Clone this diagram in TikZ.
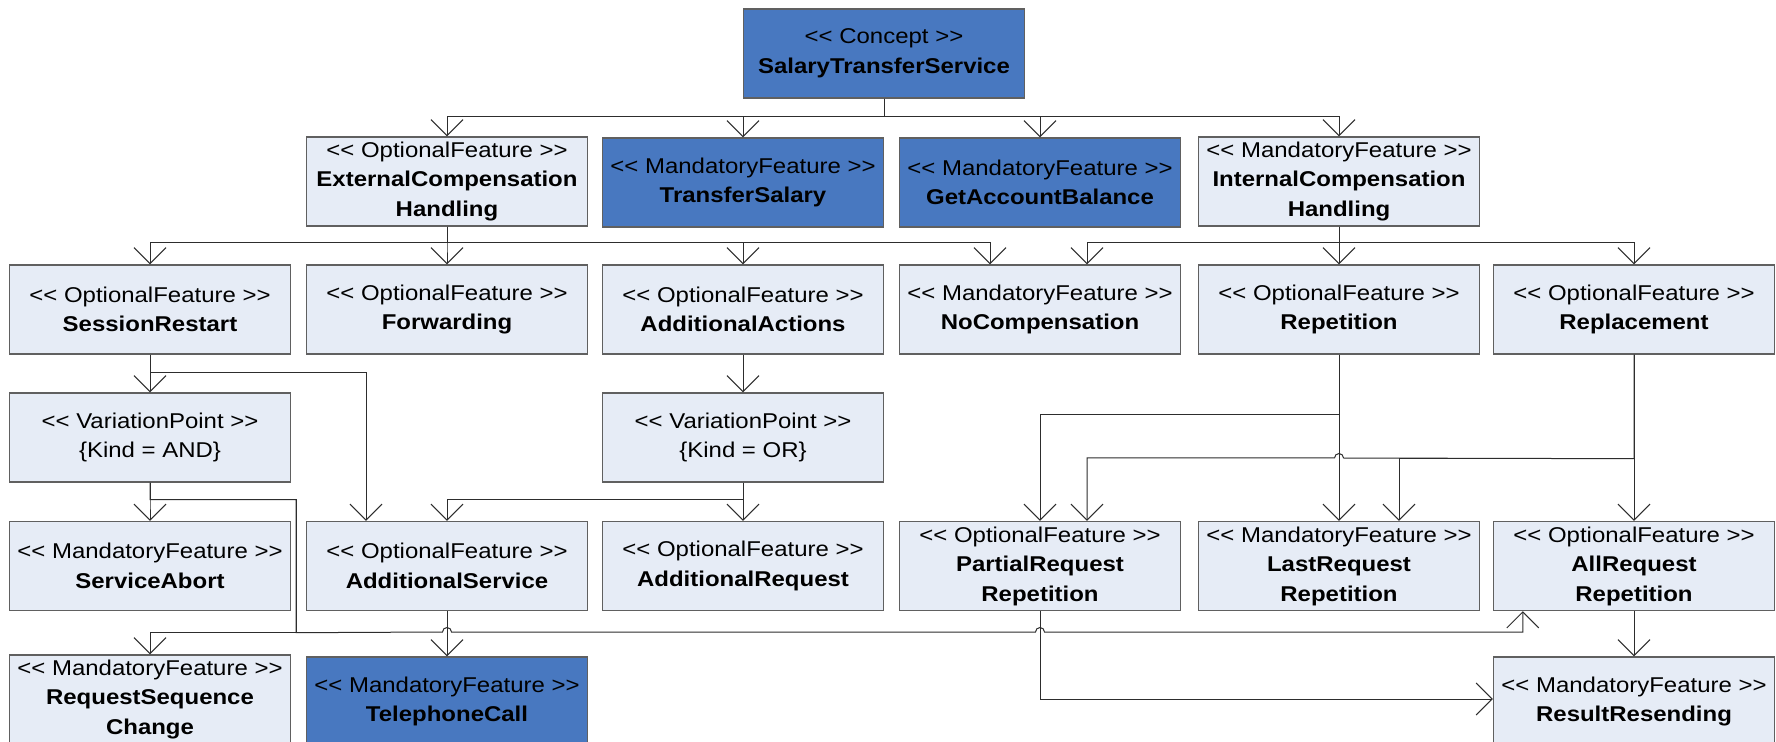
\documentclass[tikz,border=0pt]{standalone}
\usepackage{fontspec}
\setmainfont{Liberation Sans}[FakeStretch=1.12]
\usetikzlibrary{arrows.meta}
\definecolor{featdark}{RGB}{72,120,192}
\definecolor{featlight}{RGB}{230,236,246}
\definecolor{frameline}{RGB}{96,96,96}
\definecolor{wireline}{RGB}{45,45,45}
% stereotype label: << name >> (kerns keep << and >> from turning into guillemets)
\newcommand\stereo[1]{<\kern0pt< #1 >\kern0pt>}
\begin{document}
\begin{tikzpicture}[x=0.5pt,y=-0.5pt,
  box/.style={draw=frameline, line width=0.7pt, minimum width=140.5pt,
    minimum height=44.5pt, inner sep=0pt, align=center,
    font=\fontsize{10.7pt}{14.75pt}\selectfont},
  light/.style={box, fill=featlight},
  dark/.style={box, fill=featdark},
  wire/.style={draw=wireline, line width=0.5pt,
    -{Straight Barb[length=8pt,width=16pt,line width=0.5pt]}},
]
\useasboundingbox (0,0) rectangle (1776,742);
\clip (0,0) rectangle (1776,742);
\fill[white] (0,0) rectangle (1776,742);

% root
\node[dark] (concept) at (884,53.5) {\stereo{Concept}\\\textbf{SalaryTransferService}};

% first level
\node[light] (ext) at (447,181.5) {\stereo{OptionalFeature}\\\textbf{ExternalCompensation}\\\textbf{Handling}};
\node[dark] (transfer) at (743,182.5) {\stereo{MandatoryFeature}\\\textbf{TransferSalary}};
\node[dark] (balance) at (1040,182.5) {\stereo{MandatoryFeature}\\\textbf{GetAccountBalance}};
\node[light] (intc) at (1339,181.5) {\stereo{MandatoryFeature}\\\textbf{InternalCompensation}\\\textbf{Handling}};

% second level
\node[light] (restart) at (150,309.5) {\stereo{OptionalFeature}\\\textbf{SessionRestart}};
\node[light] (fwd) at (447,309.5) {\stereo{OptionalFeature}\\\textbf{Forwarding}};
\node[light] (addact) at (743,309.5) {\stereo{OptionalFeature}\\\textbf{AdditionalActions}};
\node[light] (nocomp) at (1040,309.5) {\stereo{MandatoryFeature}\\\textbf{NoCompensation}};
\node[light] (rep) at (1339,309.5) {\stereo{OptionalFeature}\\\textbf{Repetition}};
\node[light] (repl) at (1634,309.5) {\stereo{OptionalFeature}\\\textbf{Replacement}};

% variation points
\node[light] (vpand) at (150,437.5) {\stereo{VariationPoint}\\\{Kind = AND\}};
\node[light] (vpor) at (743,437.5) {\stereo{VariationPoint}\\\{Kind = OR\}};

% third level
\node[light] (abort) at (150,566) {\stereo{MandatoryFeature}\\\textbf{ServiceAbort}};
\node[light] (addsvc) at (447,566) {\stereo{OptionalFeature}\\\textbf{AdditionalService}};
\node[light] (addreq) at (743,566) {\stereo{OptionalFeature}\\\textbf{AdditionalRequest}};
\node[light] (partial) at (1040,566) {\stereo{OptionalFeature}\\\textbf{PartialRequest}\\\textbf{Repetition}};
\node[light] (last) at (1339,566) {\stereo{MandatoryFeature}\\\textbf{LastRequest}\\\textbf{Repetition}};
\node[light] (allreq) at (1634,566) {\stereo{OptionalFeature}\\\textbf{AllRequest}\\\textbf{Repetition}};

% bottom level
\node[light] (reqseq) at (150,699.5) {\stereo{MandatoryFeature}\\\textbf{RequestSequence}\\\textbf{Change}};
\node[dark] (tel) at (447,701.5) {\stereo{MandatoryFeature}\\\textbf{TelephoneCall}};
\node[light] (resend) at (1634,701.5) {\stereo{MandatoryFeature}\\\textbf{ResultResending}};

% root connectors
\foreach \c in {ext,transfer,balance,intc}
  \draw[wire] (concept.south) -- ++(0,18) -| (\c.north);

% external compensation handling
\foreach \c in {restart,fwd,addact}
  \draw[wire] (ext.south) -- ++(0,16) -| (\c.north);
\draw[wire] (ext.south) -- ++(0,16) -| ([xshift=-25pt]nocomp.north);

% internal compensation handling
\draw[wire] (intc.south) -- ++(0,16) -| ([xshift=23.5pt]nocomp.north);
\draw[wire] (intc.south) -- ++(0,16) -| (rep.north);
\draw[wire] (intc.south) -- ++(0,16) -| (repl.north);

% session restart
\draw[wire] (restart) -- (vpand);
\draw[wire] (restart.south) -- ++(0,18) -| ([xshift=-40.5pt]addsvc.north);

% AND variation point
\draw[wire] (vpand.south) -- ++(0,17) -| (abort.north);
\draw[wire] (vpand.south) -- ++(0,17) -- ++(146,0) -- ++(0,133) -| (reqseq.north);
\draw[wire] (vpand.south) -- ++(0,17) -- ++(146,0) -- ++(0,133)
  -- (442.5,632) arc[start angle=180,end angle=0,radius=2.25pt]
  -- (1035.5,632) arc[start angle=180,end angle=0,radius=2.25pt]
  -| ([xshift=15pt]allreq.south west);

% additional actions
\draw[wire] (addact) -- (vpor);
\draw[wire] (vpor.south) -- ++(0,17) -| (addsvc.north);
\draw[wire] (vpor.south) -- ++(0,17) -| (addreq.north);
\draw[wire] (addsvc) -- (tel);

% repetition
\draw[wire] (rep.south) -- ++(0,60) -| (partial.north);
\draw[wire] (rep) -- (last);

% replacement
\draw[wire] (repl) -- (allreq);
\draw[wire] (repl.south) -- ++(0,104)
  -- (1343.5,458) arc[start angle=0,end angle=180,radius=2.25pt]
  -| ([xshift=23.5pt]partial.north);
\draw[wire] (repl.south) -- ++(0,104) -| ([xshift=30pt]last.north);

% result resending
\draw[wire] (allreq) -- (resend);
\draw[wire] (partial.south) |- ([yshift=1.25pt]resend.west);
\end{tikzpicture}
\end{document}
